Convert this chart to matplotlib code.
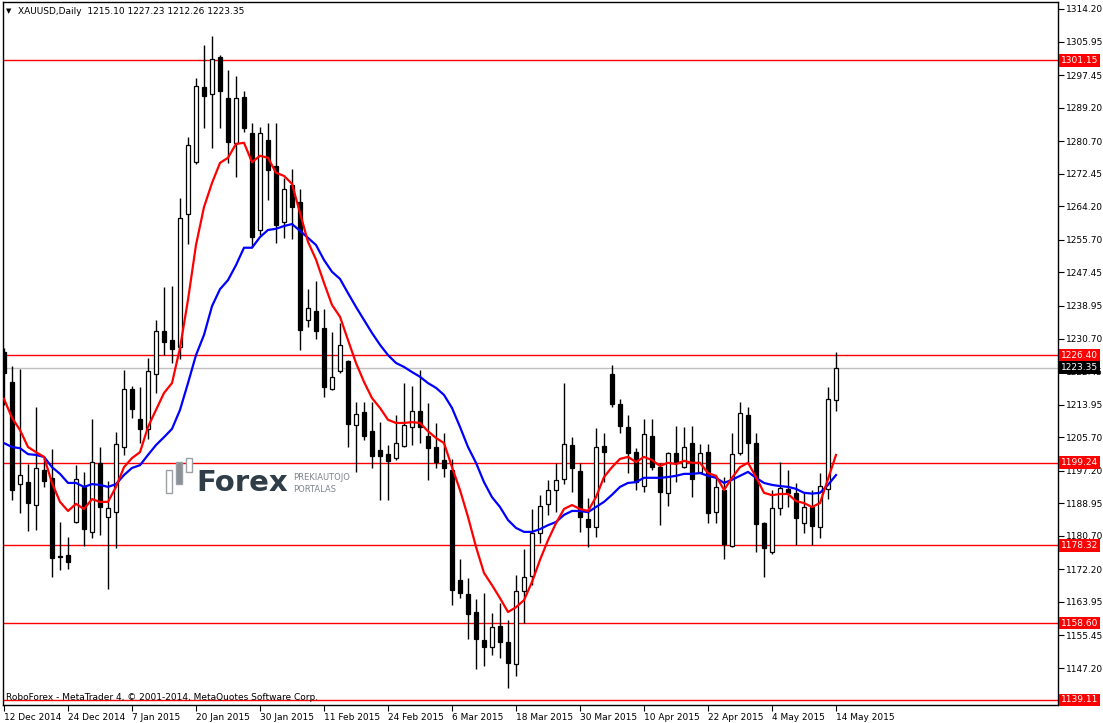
import numpy as np
import matplotlib
matplotlib.use('Agg')
import matplotlib.pyplot as plt
from matplotlib.patches import Rectangle

# Daily XAUUSD bars, 12 Dec 2014 .. 14 May 2015
opens = [1227.3, 1219.7, 1193.8, 1194.3, 1188.5, 1197.4, 1195.4, 1175.6, 1175.8, 1184.2,
         1193.1, 1181.7, 1199.2, 1185.5, 1186.7, 1203.2, 1217.9, 1210.3, 1207.8, 1221.7,
         1232.6, 1230.3, 1228.6, 1262.2, 1275.4, 1294.4, 1292.7, 1302.0, 1291.6, 1280.2,
         1291.9, 1282.8, 1258.2, 1281.0, 1274.4, 1260.2, 1269.6, 1265.3, 1235.4, 1237.7,
         1233.4, 1217.9, 1222.5, 1225.0, 1208.8, 1212.1, 1207.3, 1202.4, 1201.4, 1200.4,
         1203.5, 1208.3, 1212.3, 1206.0, 1203.2, 1199.9, 1197.4, 1169.5, 1166.0, 1161.4,
         1154.3, 1152.5, 1157.9, 1153.8, 1148.2, 1166.7, 1170.5, 1181.4, 1188.8, 1192.3,
         1195.1, 1203.7, 1197.1, 1185.0, 1183.0, 1203.5, 1221.7, 1214.1, 1208.3, 1201.9,
         1193.3, 1206.0, 1198.1, 1191.6, 1201.7, 1198.1, 1204.2, 1196.9, 1201.9, 1186.7,
         1192.3, 1178.1, 1201.7, 1211.3, 1204.2, 1184.0, 1176.6, 1187.8, 1192.6, 1191.6,
         1184.0, 1188.0, 1183.0, 1192.6, 1215.10]
highs = [1228.3, 1223.7, 1223.0, 1199.0, 1213.3, 1200.4, 1202.7, 1184.2, 1180.4, 1198.6,
         1196.9, 1210.3, 1203.2, 1194.6, 1207.0, 1222.7, 1218.7, 1218.4, 1225.8, 1235.4,
         1243.8, 1244.0, 1266.3, 1281.8, 1296.7, 1305.1, 1307.4, 1302.5, 1298.7, 1297.2,
         1293.4, 1285.3, 1284.3, 1285.3, 1285.3, 1271.4, 1273.7, 1268.6, 1243.2, 1245.3,
         1238.2, 1232.3, 1234.6, 1225.3, 1214.6, 1214.6, 1214.6, 1209.5, 1203.7, 1211.3,
         1219.4, 1218.7, 1222.7, 1214.3, 1209.3, 1206.8, 1200.2, 1174.8, 1170.0, 1164.7,
         1166.2, 1161.1, 1163.7, 1159.4, 1170.8, 1177.4, 1187.5, 1191.0, 1194.8, 1199.2,
         1219.4, 1205.8, 1199.2, 1190.3, 1208.0, 1206.8, 1224.0, 1215.4, 1211.3, 1203.0,
         1210.3, 1210.3, 1199.2, 1201.9, 1208.5, 1208.3, 1208.5, 1204.0, 1204.0, 1196.1,
         1195.6, 1206.8, 1214.6, 1213.3, 1206.8, 1184.2, 1192.3, 1199.4, 1197.4, 1194.1,
         1191.6, 1192.3, 1196.6, 1218.4, 1227.23]
lows = [1213.9, 1189.8, 1186.5, 1181.9, 1182.2, 1193.1, 1170.3, 1172.0, 1172.3, 1184.0,
        1178.1, 1180.2, 1180.9, 1167.2, 1177.6, 1201.2, 1210.6, 1204.3, 1205.3, 1216.9,
        1226.5, 1224.5, 1225.5, 1254.6, 1274.9, 1284.0, 1279.0, 1284.0, 1275.2, 1271.6,
        1283.0, 1253.9, 1256.9, 1265.8, 1254.9, 1256.1, 1255.9, 1227.8, 1233.6, 1230.6,
        1215.9, 1217.7, 1222.0, 1203.2, 1196.9, 1205.0, 1197.9, 1189.8, 1189.8, 1199.8,
        1203.2, 1203.7, 1204.2, 1194.8, 1197.9, 1195.6, 1163.2, 1165.0, 1154.6, 1147.0,
        1147.7, 1150.5, 1149.7, 1142.1, 1145.2, 1158.6, 1168.2, 1178.9, 1186.0, 1186.7,
        1193.8, 1191.8, 1181.7, 1177.9, 1180.4, 1194.3, 1213.3, 1206.8, 1196.6, 1192.3,
        1191.8, 1197.4, 1183.4, 1188.3, 1194.3, 1198.0, 1190.5, 1196.5, 1184.0, 1184.0,
        1174.8, 1177.8, 1201.2, 1199.2, 1176.6, 1170.2, 1176.0, 1186.0, 1188.0, 1178.4,
        1181.4, 1178.4, 1180.2, 1190.0, 1212.26]
closes = [1222.0, 1192.3, 1196.1, 1189.0, 1197.9, 1194.6, 1175.1, 1175.3, 1174.1, 1195.1,
          1182.4, 1199.4, 1188.0, 1187.8, 1204.0, 1217.9, 1212.8, 1207.8, 1222.5, 1232.6,
          1229.8, 1228.0, 1261.2, 1279.7, 1294.7, 1292.2, 1301.5, 1293.4, 1280.5, 1291.6,
          1284.0, 1256.4, 1282.8, 1273.4, 1259.5, 1268.6, 1264.0, 1232.9, 1238.4, 1232.6,
          1218.4, 1220.9, 1229.1, 1209.0, 1211.6, 1206.0, 1200.9, 1200.9, 1199.7, 1204.2,
          1208.8, 1212.3, 1208.3, 1202.9, 1199.4, 1197.9, 1167.0, 1166.2, 1160.9, 1154.6,
          1152.5, 1157.6, 1153.8, 1148.5, 1166.7, 1170.3, 1181.4, 1188.3, 1192.3, 1194.8,
          1204.0, 1197.9, 1185.5, 1183.0, 1203.2, 1201.9, 1214.1, 1208.5, 1201.7, 1194.3,
          1206.5, 1198.1, 1191.8, 1201.7, 1199.2, 1203.2, 1195.1, 1201.7, 1186.5, 1193.1,
          1178.6, 1201.4, 1211.8, 1204.2, 1183.7, 1177.6, 1187.8, 1192.8, 1191.6, 1185.2,
          1188.0, 1183.2, 1193.3, 1215.4, 1223.35]

# moving averages as drawn (red = fast, blue = slow)
ma_fast = [1215.4, 1210.6, 1207.5, 1203.2, 1201.9, 1200.7, 1194.1, 1189.3, 1187.0, 1188.8,
           1187.5, 1190.0, 1189.3, 1189.3, 1193.1, 1198.1, 1200.4, 1201.9, 1208.3, 1212.6,
           1216.9, 1219.4, 1228.3, 1240.5, 1254.4, 1264.0, 1270.1, 1275.2, 1276.5, 1280.0,
           1280.3, 1275.4, 1277.0, 1276.5, 1272.7, 1271.9, 1269.9, 1262.5, 1255.2, 1250.7,
           1244.8, 1239.2, 1236.2, 1230.3, 1224.5, 1219.7, 1215.6, 1213.1, 1210.1, 1209.3,
           1209.3, 1209.5, 1209.3, 1207.2, 1205.5, 1204.2, 1198.1, 1192.3, 1185.5, 1177.9,
           1171.3, 1168.2, 1164.9, 1161.4, 1162.6, 1164.4, 1169.0, 1174.6, 1179.6, 1183.9,
           1187.5, 1188.5, 1187.5, 1187.0, 1190.5, 1195.6, 1198.1, 1200.2, 1200.7, 1199.4,
           1200.7, 1199.9, 1198.4, 1199.2, 1198.9, 1199.7, 1199.2, 1199.2, 1196.6, 1195.9,
           1192.3, 1195.4, 1198.1, 1199.2, 1195.6, 1191.6, 1191.0, 1191.3, 1191.3, 1189.5,
           1189.0, 1188.0, 1189.0, 1195.1, 1201.2]
ma_slow = [1204.2, 1203.2, 1202.9, 1201.4, 1201.2, 1200.7, 1198.1, 1196.4, 1194.1, 1194.1,
           1193.1, 1193.8, 1193.6, 1193.1, 1193.8, 1196.1, 1197.9, 1198.6, 1201.2, 1203.7,
           1205.7, 1207.8, 1212.6, 1219.4, 1226.5, 1231.6, 1238.9, 1243.2, 1245.5, 1249.3,
           1253.7, 1253.7, 1256.4, 1258.2, 1258.5, 1259.2, 1259.7, 1258.0, 1256.2, 1254.4,
           1250.6, 1247.6, 1245.8, 1242.2, 1238.7, 1235.4, 1232.1, 1229.1, 1226.5, 1224.5,
           1223.5, 1222.2, 1221.0, 1219.4, 1218.2, 1216.4, 1213.1, 1208.3, 1203.2, 1199.2,
           1194.3, 1190.5, 1188.0, 1184.7, 1182.7, 1181.7, 1181.7, 1182.4, 1183.4, 1184.2,
           1186.0, 1187.0, 1187.0, 1186.7, 1188.0, 1189.3, 1191.1, 1193.1, 1194.1, 1194.3,
           1195.4, 1195.4, 1195.4, 1195.6, 1195.9, 1196.4, 1196.4, 1196.6, 1195.9, 1195.4,
           1194.1, 1194.9, 1195.9, 1196.9, 1195.4, 1194.1, 1193.6, 1193.3, 1193.1, 1192.6,
           1191.6, 1191.4, 1191.6, 1193.6, 1196.1]

levels = [1301.15, 1226.40, 1199.24, 1178.32, 1158.60, 1139.11]
last_price = 1223.35
price_ticks = [1314.20, 1305.95, 1297.45, 1289.20, 1280.70, 1272.45, 1264.20, 1255.70,
               1247.45, 1238.95, 1230.70, 1222.45, 1213.95, 1205.70, 1197.20, 1188.95,
               1180.70, 1172.20, 1163.95, 1155.45, 1147.20]
date_labels = ['12 Dec 2014', '24 Dec 2014', '7 Jan 2015', '20 Jan 2015', '30 Jan 2015',
               '11 Feb 2015', '24 Feb 2015', '6 Mar 2015', '18 Mar 2015', '30 Mar 2015',
               '10 Apr 2015', '22 Apr 2015', '4 May 2015', '14 May 2015']

W, H = 1103, 723
fig = plt.figure(figsize=(W / 100, H / 100), dpi=100)
ax = fig.add_axes([3 / W, 18 / H, 1055 / W, 703 / H])

o = np.array(opens)
h = np.array(highs)
l = np.array(lows)
c = np.array(closes)
x = np.arange(len(o))
up = c >= o
bottom = np.minimum(o, c)
height = np.maximum(np.abs(c - o), 0.3)

ax.axhline(last_price, color='#c0c0c0', lw=1, zorder=1)
for lv in levels:
    ax.axhline(lv, color='#ff0000', lw=1, zorder=1)

ax.vlines(x, l, h, color='black', lw=1, zorder=2)
ax.bar(x[up], height[up], bottom=bottom[up], width=0.62, facecolor='white',
       edgecolor='black', lw=0.9, zorder=3)
ax.bar(x[~up], height[~up], bottom=bottom[~up], width=0.62, facecolor='black',
       edgecolor='black', lw=0.9, zorder=3)

ax.plot(x, ma_slow, color='#0000ff', lw=1.6, zorder=4)
ax.plot(x, ma_fast, color='#ff0000', lw=1.6, zorder=4)

ax.set_xlim(-0.125, 131.75)
ax.set_ylim(1137.83, 1315.97)

ax.yaxis.tick_right()
ax.set_yticks(price_ticks)
ax.set_yticklabels(['%.2f' % t for t in price_ticks])
ax.tick_params(axis='y', direction='out', length=4, width=0.8, labelsize=6.5, pad=2)

ax.set_xticks(np.arange(0, len(o), 8))
ax.set_xticklabels(date_labels)
for t in ax.get_xticklabels():
    t.set_ha('left')
ax.tick_params(axis='x', direction='out', length=4, width=0.8, labelsize=6.5, pad=1.5)
for s in ax.spines.values():
    s.set_linewidth(1)
    s.set_color('black')

# price labels on the right axis
ytr = ax.get_yaxis_transform()
for lv in levels:
    ax.text(1.0028, lv, '%.2f' % lv, transform=ytr, ha='left', va='center', color='white',
            fontsize=6.5, clip_on=False, zorder=10,
            bbox=dict(boxstyle='square,pad=0.2', fc='#ff0000', ec='none'))
ax.text(1.0028, last_price, '%.2f' % last_price, transform=ytr, ha='left', va='center',
        color='white', fontsize=6.5, clip_on=False, zorder=10,
        bbox=dict(boxstyle='square,pad=0.2', fc='black', ec='none'))

# header and footer
fig.text(6 / W, 1 - 11 / H, '▼', fontsize=5, va='center')
fig.text(18 / W, 1 - 11 / H, 'XAUUSD,Daily  %.2f %.2f %.2f %.2f' % (o[-1], h[-1], l[-1], c[-1]),
         fontsize=6.5, va='center')
fig.text(6 / W, 1 - 697 / H, 'RoboForex - MetaTrader 4, © 2001-2014, MetaQuotes Software Corp.',
         fontsize=6.5, va='center')

# watermark
for (x0, y0, hh, fc) in [(166, 470, 23, 'white'), (176, 462, 22, '#8a9096'), (186, 458, 14, 'white')]:
    fig.add_artist(Rectangle((x0 / W, 1 - (y0 + hh) / H), 6 / W, hh / H, transform=fig.transFigure,
                             fc=fc, ec='#9aa0a6', lw=1, zorder=5))
fig.text(196 / W, 1 - 483 / H, 'Forex', fontsize=21, weight='bold', color='#2e3d48',
         va='center', zorder=6)
fig.text(293 / W, 1 - 477 / H, 'PREKIAUTOJO', fontsize=6, color='#7d858c', va='center', zorder=6)
fig.text(293 / W, 1 - 490 / H, 'PORTALAS', fontsize=6, color='#7d858c', va='center', zorder=6)

fig.savefig('out.png', dpi=100)
